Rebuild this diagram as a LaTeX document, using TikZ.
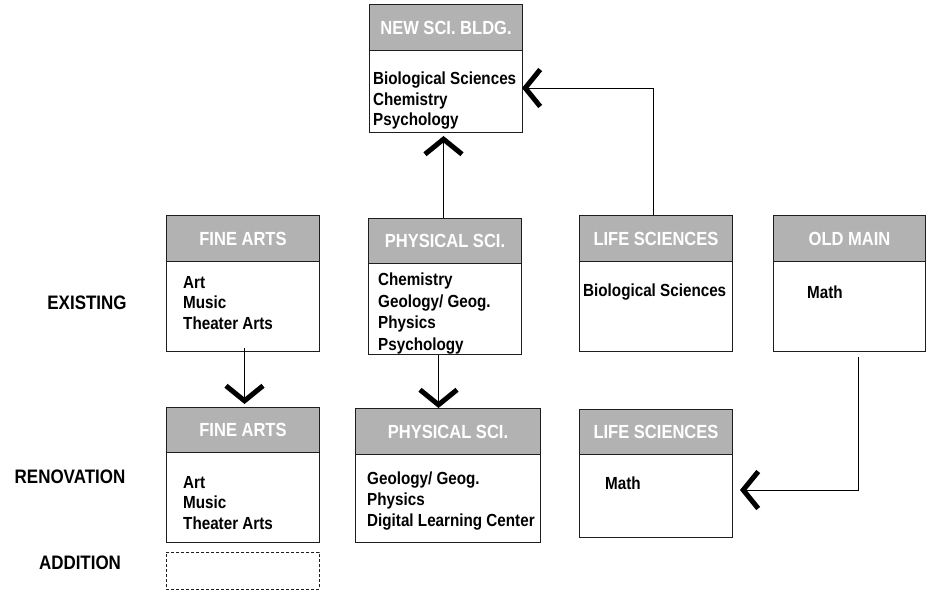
\documentclass[tikz,border=0pt]{standalone}
\usepackage{fontspec}
\setmainfont{Liberation Sans}[FakeStretch=0.87]
\usepackage{xcolor}
\usepackage{tikz}
\usetikzlibrary{arrows.meta,positioning,calc}
\definecolor{hdrGray}{HTML}{B2B2B2}
\definecolor{edge}{HTML}{1E1E1E}
\tikzset{
  bldgBox/.style={draw=edge, line width=1pt, rectangle, inner sep=0pt, anchor=north west},
  hdrBox/.style={draw=edge, line width=1pt, fill=hdrGray, text=white, inner sep=0pt, anchor=north west,
    font=\fontsize{19}{21}\selectfont\bfseries},
  deptTxt/.style={anchor=north west, inner sep=0pt, align=left, font=\fontsize{17.5}{20.5}\selectfont\bfseries},
  rowLbl/.style={inner sep=0pt, font=\fontsize{19.5}{22}\selectfont\bfseries},
  addBox/.style={draw=edge, line width=0.8pt, dash pattern=on 3pt off 2pt, inner sep=0pt, anchor=north west},
  moveArr/.style={draw=black, line width=1pt, -{Straight Barb[length=15pt,width=37pt,line width=5pt 0 1]}},
}
% name, left, top, width, header height, height, title
\newcommand{\Bldg}[7]{%
  \node[bldgBox, minimum width=#4pt, minimum height=#6pt] (#1) at (#2,#3) {};
  \node[hdrBox, minimum width=#4pt, minimum height=#5pt] (#1H) at (#2,#3) {#7};
}

\begin{document}
\begin{tikzpicture}[x=1pt, y=-1pt]
  \useasboundingbox (0,0) rectangle (927,590);

  \Bldg{newSci}{369}{4}{153}{46}{128}{NEW SCI. BLDG.}
  \Bldg{fineA}{166}{215}{153}{46}{136}{FINE ARTS}
  \Bldg{physA}{368}{218}{153}{45}{136}{PHYSICAL SCI.}
  \Bldg{lifeA}{579}{215}{153}{46}{136}{LIFE SCIENCES}
  \Bldg{oldMain}{773}{215}{152}{46}{136}{OLD MAIN}
  \Bldg{fineB}{166}{407}{153}{45}{135}{FINE ARTS}
  \Bldg{physB}{355}{408}{185}{46}{134}{PHYSICAL SCI.}
  \Bldg{lifeB}{579}{409}{153}{45}{128}{LIFE SCIENCES}

  \node[deptTxt] (newSciT) at (373,72) {Biological Sciences\\Chemistry\\Psychology};
  \node[deptTxt] (fineAT) at (183,276) {Art\\Music\\Theater Arts};
  \node[deptTxt, font=\fontsize{17.5}{21.5}\selectfont\bfseries] (physAT) at (378,273)
    {Chemistry\\Geology/ Geog.\\Physics\\Psychology};
  \node[deptTxt] (lifeAT) at (583,284) {Biological Sciences};
  \node[deptTxt] (oldMainT) at (807,286) {Math};
  \node[deptTxt] (fineBT) at (183,476) {Art\\Music\\Theater Arts};
  \node[deptTxt, font=\fontsize{17.5}{21}\selectfont\bfseries] (physBT) at (367,472)
    {Geology/ Geog.\\Physics\\Digital Learning Center};
  \node[deptTxt] (lifeBT) at (605,477) {Math};

  \node[rowLbl] (existLbl) at (87,303) {EXISTING};
  \node[rowLbl] (renoLbl) at (70,477) {RENOVATION};
  \node[rowLbl] (addLbl) at (80,563) {ADDITION};
  \node[addBox, minimum width=153pt, minimum height=37pt] (addSlot) at (166,552) {};

  \coordinate (newSciIn) at (522,88);
  \coordinate (lifeBIn) at (740,490);

  \draw[moveArr, shorten >=3pt] ([xshift=-1.5pt]physA.north) -- ([xshift=-1.5pt]physA.north |- newSci.south);
  \draw[moveArr] ([xshift=-2.5pt]lifeA.north) |- (newSciIn);
  \draw[moveArr, shorten >=3pt] ([xshift=1.5pt,yshift=4pt]fineA.south) -- ([xshift=1.5pt]fineB.north);
  \draw[moveArr] ([xshift=-6.5pt]physA.south) -- ([xshift=-6.5pt]physA.south |- physB.north);
  \draw[moveArr] ([xshift=9pt,yshift=-5pt]oldMain.south) |- (lifeBIn);
\end{tikzpicture}
\end{document}
